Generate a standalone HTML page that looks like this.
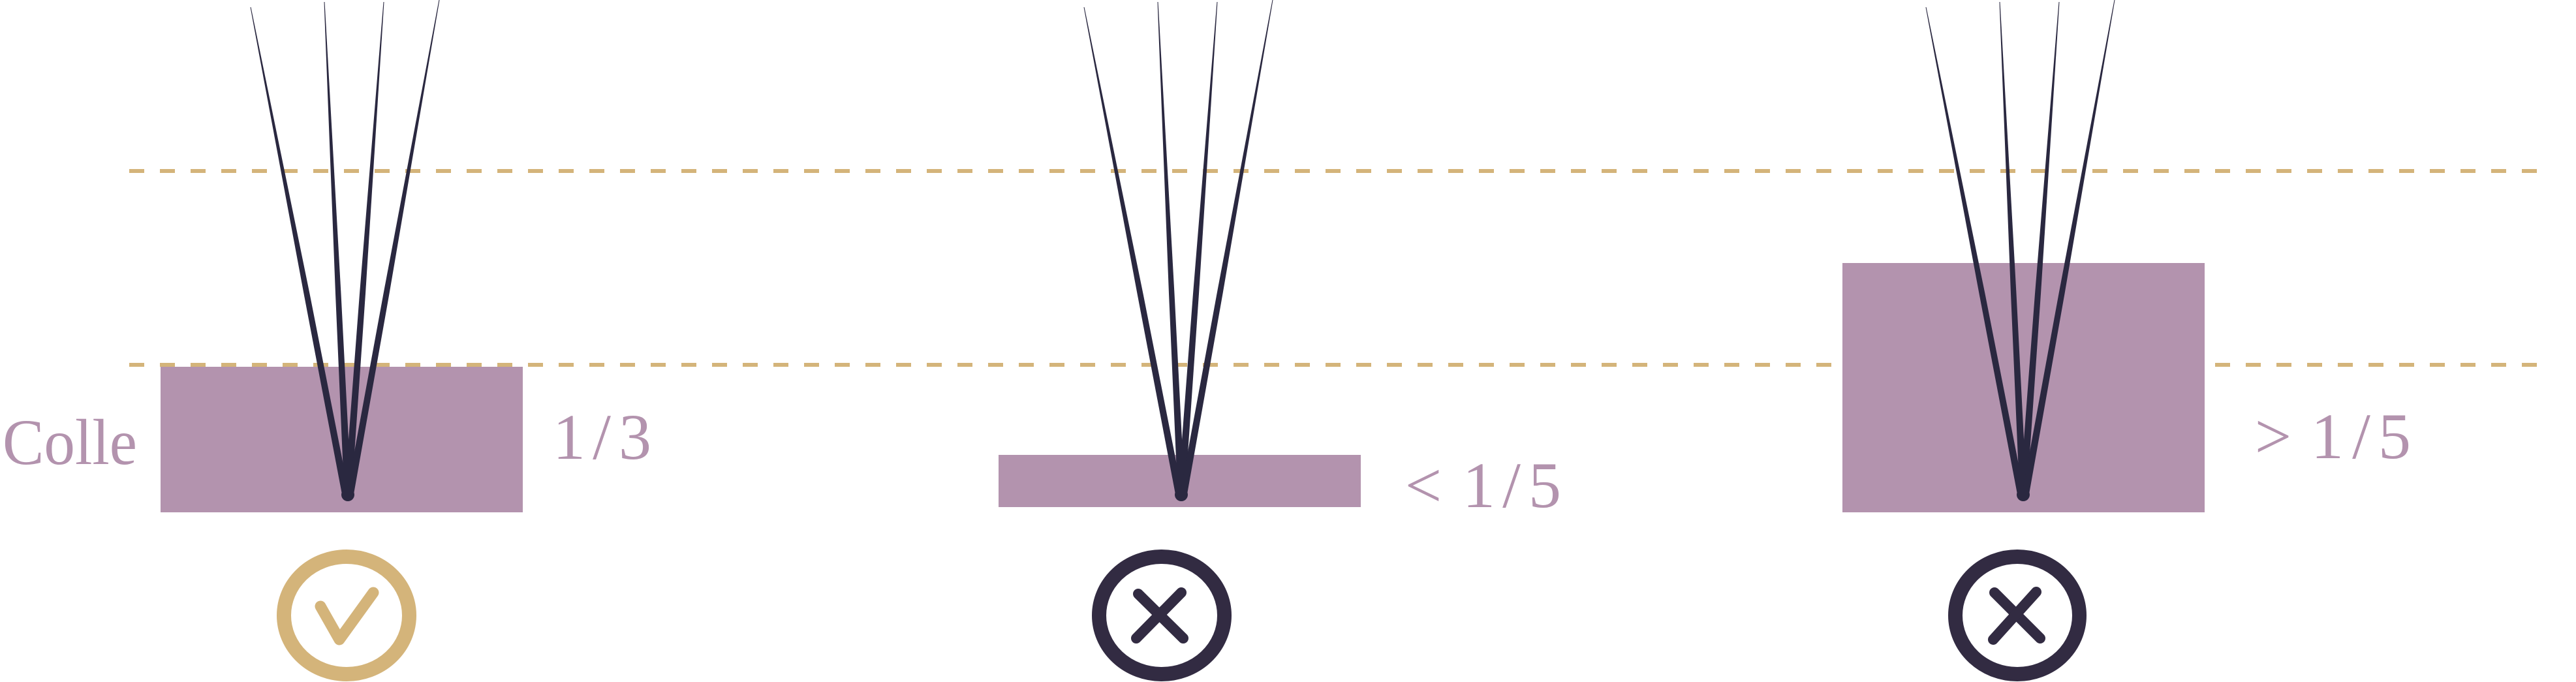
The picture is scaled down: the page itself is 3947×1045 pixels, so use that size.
<!DOCTYPE html>
<html><head><meta charset="utf-8"><style>
html,body{margin:0;padding:0;background:#fff;width:3947px;height:1045px;overflow:hidden}
svg{display:block}
text{font-family:"Liberation Serif",serif;fill:#b393ae}
</style></head><body>
<svg width="3947" height="1045" viewBox="0 0 3947 1045" xmlns="http://www.w3.org/2000/svg">
<defs>
<g id="lash" fill="#2a2840">
<polygon points="383.5,11 384.5,11 474.5,450 535.5,760 524.5,760 465.5,450"/>
<polygon points="496.5,3 497.5,3 522.5,450 538.5,760 527.5,760 514,450"/>
<polygon points="587.5,3 588.5,3 560,450 538.5,760 527.5,760 551,450"/>
<polygon points="672.5,0 673.5,0 596.5,450 541.5,760 530.5,760 587.5,450"/>
<ellipse cx="533" cy="758" rx="10" ry="10"/>
</g>
</defs>
<g stroke="#d4b47a" stroke-width="6" stroke-dasharray="23 24">
<line x1="198" y1="262" x2="3906" y2="262"/>
<line x1="198" y1="559" x2="3906" y2="559"/>
</g>
<g fill="#b393ae">
<rect x="246" y="562" width="555" height="223"/>
<rect x="1530" y="697" width="555" height="80"/>
<rect x="2823" y="403" width="555" height="382"/>
</g>
<use href="#lash"/>
<use href="#lash" transform="translate(1277,0)"/>
<use href="#lash" transform="translate(2567,0)"/>
<text x="4" y="711" font-size="100" textLength="206" lengthAdjust="spacingAndGlyphs">Colle</text>
<g font-size="100" text-anchor="middle">
<text x="872" y="703">1</text><text x="922" y="703">/</text><text x="973" y="703">3</text>
<text x="2181" y="777">&lt;</text><text x="2266" y="777">1</text><text x="2316" y="777">/</text><text x="2367" y="777">5</text>
<text x="3483" y="702">&gt;</text><text x="3566" y="702">1</text><text x="3618" y="702">/</text><text x="3669" y="702">5</text>
</g>
<ellipse cx="531" cy="943" rx="96" ry="90" fill="none" stroke="#d4b47a" stroke-width="22"/>
<polyline points="491,929 520,980 572,908" fill="none" stroke="#d4b47a" stroke-width="17" stroke-linecap="round" stroke-linejoin="round"/>
<g fill="none" stroke="#322b42">
<ellipse cx="1780" cy="943" rx="96" ry="90" stroke-width="22"/>
<line x1="1744" y1="910" x2="1813" y2="978" stroke-width="16" stroke-linecap="round"/>
<line x1="1810" y1="908" x2="1741" y2="978" stroke-width="16" stroke-linecap="round"/>
<ellipse cx="3091" cy="943" rx="95" ry="90" stroke-width="22"/>
<line x1="3056" y1="908" x2="3126" y2="978" stroke-width="16" stroke-linecap="round"/>
<line x1="3120" y1="907" x2="3054" y2="980" stroke-width="16" stroke-linecap="round"/>
</g>
</svg>
</body></html>
